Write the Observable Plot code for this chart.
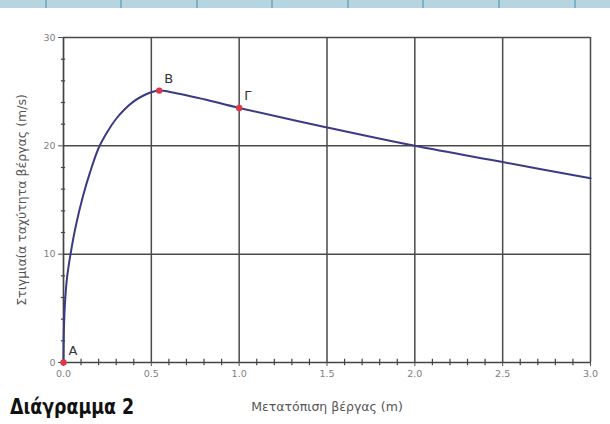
<!DOCTYPE html>
<html>
<head>
<meta charset="utf-8">
<script src="https://cdn.jsdelivr.net/npm/d3@7"></script>
<script src="https://cdn.jsdelivr.net/npm/@observablehq/plot@0.6"></script>
<style>
  html, body { margin: 0; padding: 0; background: #fff; }
  #wrap { position: relative; width: 610px; height: 424px; overflow: hidden; }
  #band { position: absolute; left: 0; top: 0; width: 610px; height: 8px; background: #b7d5e1; }
  .div { position: absolute; top: 0; width: 2px; height: 8px; background: #7fb0c6; }
  #caption { position: absolute; left: 10px; top: 395px; font-family: "DejaVu Sans Condensed", "DejaVu Sans"; font-stretch: condensed; font-weight: bold; font-size: 21px; color: #111; transform: scaleX(0.92); transform-origin: left top; }
</style>
</head>
<body>
<div id="wrap">
  <div id="band"></div>
  <div id="chart"></div>
  <div id="caption">Διάγραμμα 2</div>
</div>
<script>
const xs = [0, 0.001, 0.004, 0.01, 0.02, 0.04, 0.07, 0.11, 0.15, 0.2, 0.25, 0.3, 0.35, 0.4, 0.45, 0.5, 0.545, 0.6, 0.8, 1.0, 1.5, 2.0, 2.5, 3.0];
const vs = [0, 2, 3.9, 5.9, 7.8, 10, 12.6, 15.3, 17.5, 19.8, 21.3, 22.5, 23.4, 24.1, 24.6, 24.95, 25.1, 25.0, 24.3, 23.5, 21.7, 20.0, 18.5, 17.0];
const pointNames = ["A", "B", "Γ"];
const pointX = [0, 0.545, 1.0];
const pointY = [0, 25.1, 23.5];
const xMajor = [0, 0.5, 1, 1.5, 2, 2.5, 3];
const yMajor = [0, 10, 20, 30];
const xMinor = d3.range(1, 30).map(i => i / 10).filter(v => Math.abs(v * 2 - Math.round(v * 2)) > 1e-6);
const yMinor = d3.range(2, 30, 2).filter(v => v % 10 !== 0);
const bandDividers = [45, 120, 196, 271, 347, 422, 498, 574];

const band = document.getElementById("band");
bandDividers.forEach(x => { const d = document.createElement("div"); d.className = "div"; d.style.left = x + "px"; band.appendChild(d); });

const curve = xs.map((x, i) => ({x, v: vs[i]}));
const pts = pointNames.map((n, i) => ({n, x: pointX[i], v: pointY[i]}));

const chart = Plot.plot({
  width: 610,
  height: 424,
  marginLeft: 63,
  marginRight: 20,
  marginTop: 37,
  marginBottom: 62,
  style: {fontFamily: "DejaVu Sans", background: "transparent"},
  x: {domain: [0, 3]},
  y: {domain: [0, 30]},
  marks: [
    Plot.gridX(xMajor.slice(1), {stroke: "#4a4a4a", strokeOpacity: 1, strokeWidth: 1.5}),
    Plot.gridY(yMajor.slice(1), {stroke: "#4a4a4a", strokeOpacity: 1, strokeWidth: 1.5}),
    Plot.ruleX([0], {stroke: "#444", strokeWidth: 1.7}),
    Plot.ruleY([0], {stroke: "#444", strokeWidth: 1.7}),
    Plot.ruleX(xMinor, {y1: -0.3, y2: 0.3, stroke: "#444", strokeWidth: 1.2}),
    Plot.ruleY(yMinor, {x1: -0.012, x2: 0.012, stroke: "#444", strokeWidth: 1.2}),
    Plot.axisX({ticks: xMajor, tickFormat: d3.format(".1f"), tickSize: 4, tickPadding: 4, fontSize: 9.5, color: "#808080", stroke: "#555",
      label: "Μετατόπιση βέργας (m)", labelAnchor: "center", labelArrow: "none", labelOffset: 48}),
    Plot.axisY({ticks: yMajor, tickSize: 5, tickPadding: 3, fontSize: 9.5, color: "#808080", stroke: "#555",
      label: "Στιγμιαία ταχύτητα βέργας (m/s)", labelAnchor: "center", labelArrow: "none", labelOffset: 46}),
    Plot.line(curve, {x: "x", y: "v", stroke: "#3b3a85", strokeWidth: 2, curve: "catmull-rom"}),
    Plot.dot(pts, {x: "x", y: "v", r: 3.2, fill: "#e0364a", stroke: "none"}),
    Plot.text(pts, {x: "x", y: "v", text: "n", dx: 5, dy: -12, textAnchor: "start", fontSize: 13, fill: "#333"})
  ]
});
document.getElementById("chart").appendChild(chart);
chart.querySelectorAll("g[aria-label='x-axis label'] text, g[aria-label='y-axis label'] text").forEach(t => { t.setAttribute("fill", "#555"); t.setAttribute("font-size", "12.5"); });
</script>
</body>
</html>
